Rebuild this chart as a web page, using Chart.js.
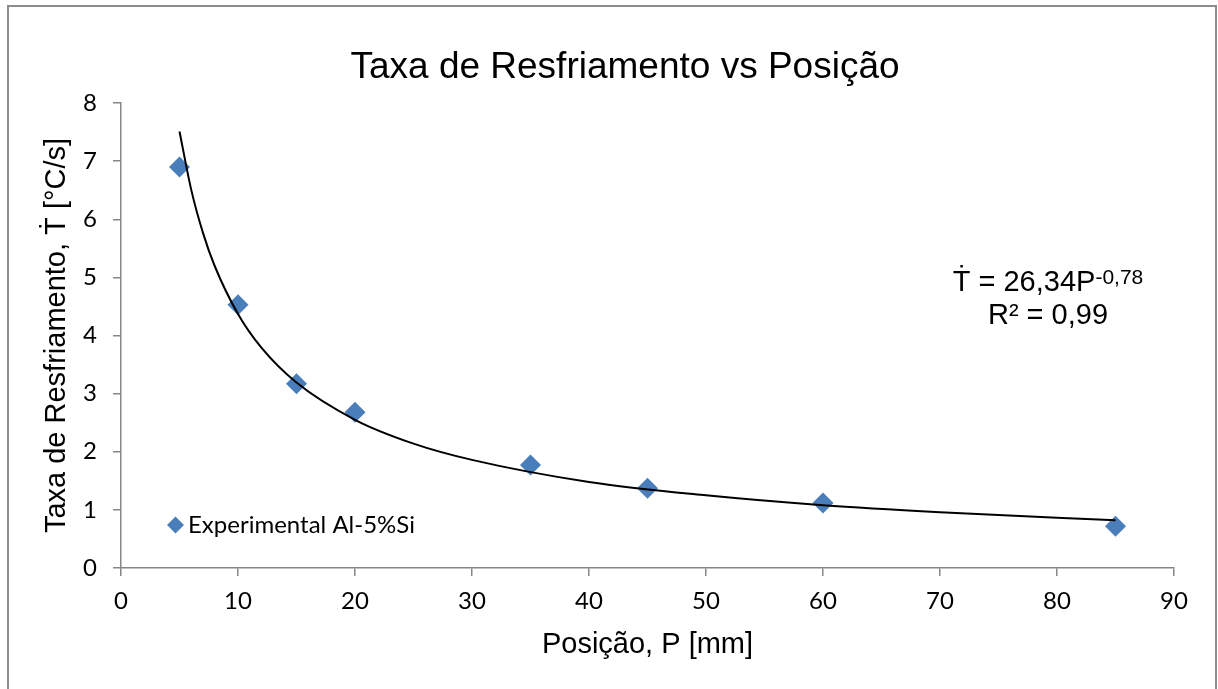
<!DOCTYPE html>
<html>
<head>
<meta charset="utf-8">
<script src="https://cdn.jsdelivr.net/npm/chart.js@4/dist/chart.umd.min.js"></script>
<style>
  html, body { margin: 0; padding: 0; background: #ffffff; }
  #wrap { position: relative; width: 1218px; height: 689px; }
</style>
</head>
<body>
<div id="wrap"><canvas id="c" width="1218" height="689"></canvas></div>
<script>
// ---- data ----
const chartTitle = 'Taxa de Resfriamento vs Posição';
const xTitle = 'Posição, P [mm]';
const yTitle = 'Taxa de Resfriamento, Ṫ [°C/s]';
const seriesName = 'Experimental Al-5%Si';
const positionP = [5, 10, 15, 20, 35, 45, 60, 85];
const coolingRate = [6.90, 4.53, 3.17, 2.68, 1.77, 1.37, 1.12, 0.72];
// power trend line
const trendP = [5, 6, 7, 8, 10, 12, 15, 20, 25, 30, 40, 50, 60, 70, 85];
const trendRate = [7.51, 6.51, 5.77, 5.20, 4.37, 3.79, 3.19, 2.55, 2.14, 1.86, 1.48, 1.25, 1.08, 0.96, 0.82];
const eqMain = 'Ṫ = 26,34P';
const eqExp = '-0,78';
const eqR2 = 'R² = 0,99';
const xTicks = [0, 10, 20, 30, 40, 50, 60, 70, 80, 90];
const yTicks = [0, 1, 2, 3, 4, 5, 6, 7, 8];

const ARIAL = '"Liberation Sans", Arial, sans-serif';
const CALIBRI = 'Lato, "Open Sans", sans-serif';
const BLUE = '#4A7EBB';
const AXIS = '#868686';

const decor = {
  id: 'decor',
  afterDraw(chart) {
    const ctx = chart.ctx;
    ctx.save();
    // outer frame
    ctx.strokeStyle = '#8c8c8c';
    ctx.lineWidth = 2;
    ctx.strokeRect(8, 6, 1208, 700);
    // title
    ctx.fillStyle = '#000';
    ctx.font = '37px ' + ARIAL;
    ctx.textAlign = 'center';
    ctx.textBaseline = 'middle';
    ctx.fillText(chartTitle, 625, 68);
    // equation
    ctx.font = '29px ' + ARIAL;
    const wMain = ctx.measureText(eqMain).width;
    ctx.font = '21px ' + ARIAL;
    const wExp = ctx.measureText(eqExp).width;
    const cx = 1048;
    const startX = cx - (wMain + wExp) / 2;
    ctx.textAlign = 'left';
    ctx.font = '29px ' + ARIAL;
    ctx.fillText(eqMain, startX, 283);
    ctx.font = '21px ' + ARIAL;
    ctx.fillText(eqExp, startX + wMain, 278);
    ctx.font = '29px ' + ARIAL;
    ctx.textAlign = 'center';
    ctx.fillText(eqR2, cx, 316);
    // legend
    const lx = 175.5, ly = 525, r = 8.5;
    ctx.fillStyle = BLUE;
    ctx.beginPath();
    ctx.moveTo(lx, ly - r);
    ctx.lineTo(lx + r, ly);
    ctx.lineTo(lx, ly + r);
    ctx.lineTo(lx - r, ly);
    ctx.closePath();
    ctx.fill();
    ctx.fillStyle = '#000';
    ctx.font = '24px ' + CALIBRI;
    ctx.textAlign = 'left';
    ctx.fillText(seriesName, 188, ly);
    ctx.restore();
  }
};

new Chart(document.getElementById('c'), {
  type: 'scatter',
  data: {
    datasets: [
      {
        label: 'Trend',
        data: trendP.map((p, i) => ({ x: p, y: trendRate[i] })),
        showLine: true,
        borderColor: '#000',
        borderWidth: 2,
        pointRadius: 0,
        cubicInterpolationMode: 'monotone',
        fill: false,
        order: 0
      },
      {
        label: seriesName,
        data: positionP.map((p, i) => ({ x: p, y: coolingRate[i] })),
        backgroundColor: BLUE,
        borderColor: BLUE,
        borderWidth: 0,
        pointStyle: 'rectRot',
        pointRadius: 10.5,
        order: 1
      }
    ]
  },
  options: {
    responsive: false,
    animation: false,
    layout: { padding: { left: 0, top: 103, right: 44, bottom: 0 } },
    plugins: { legend: { display: false }, title: { display: false }, tooltip: { enabled: false } },
    scales: {
      x: {
        type: 'linear',
        min: 0, max: 90,
        afterBuildTicks(scale) { scale.ticks = xTicks.map(v => ({ value: v })); },
        afterFit(scale) { scale.height = 121; },
        grid: { drawOnChartArea: false, drawTicks: true, tickLength: 8, color: AXIS, lineWidth: 1.5 },
        border: { display: true, color: AXIS, width: 1.5 },
        ticks: { color: '#000', font: { family: CALIBRI, size: 24 }, padding: 11, maxRotation: 0 },
        title: { display: true, text: xTitle, color: '#000', font: { family: ARIAL, size: 29 }, padding: { top: 0, bottom: 27 } }
      },
      y: {
        type: 'linear',
        min: 0, max: 8,
        afterBuildTicks(scale) { scale.ticks = yTicks.map(v => ({ value: v })); },
        afterFit(scale) { scale.width = 121; },
        grid: { drawOnChartArea: false, drawTicks: true, tickLength: 8, color: AXIS, lineWidth: 1.5 },
        border: { display: true, color: AXIS, width: 1.5 },
        ticks: { color: '#000', font: { family: CALIBRI, size: 24 }, padding: 16 },
        title: { display: true, text: yTitle, color: '#000', font: { family: ARIAL, size: 29 }, padding: { top: 40, bottom: 0 } }
      }
    }
  },
  plugins: [decor]
});
</script>
</body>
</html>
